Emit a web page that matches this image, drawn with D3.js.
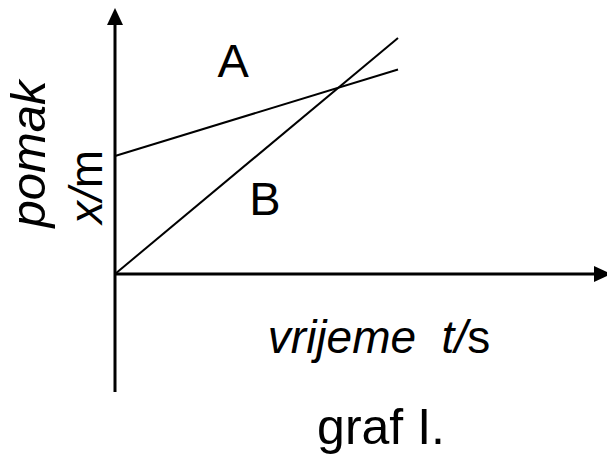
<!DOCTYPE html>
<html>
<head>
<meta charset="utf-8">
<script src="https://cdn.jsdelivr.net/npm/d3@7"></script>
<style>
  html, body { margin: 0; padding: 0; background: #fff; }
  text { font-family: "Liberation Sans", Arial, sans-serif; fill: #000; }
</style>
</head>
<body>
<svg width="607" height="456"></svg>
<script>
// Data: two straight lines (time in s, displacement in m, no units shown)
var times = [0, 4];
var seriesA = [3, 5.2];
var seriesB = [0, 6];
var lineNames = ['A', 'B'];
// label anchor points in data units
var labelT = [1.67, 2.12];
var labelX = [5.0, 1.5];

var svg = d3.select('svg');

// Origin of the plot in pixels
var origin = {x: 115, y: 274};

var xScale = d3.scaleLinear()
    .domain([0, 4])
    .range([origin.x, 398]);

var yScale = d3.scaleLinear()
    .domain([0, 6])
    .range([origin.y, 38]);

// Axes with arrow heads
var axisG = svg.append('g').attr('class', 'axes');

// vertical axis
axisG.append('line')
    .attr('x1', origin.x).attr('y1', 392)
    .attr('x2', origin.x).attr('y2', 22)
    .attr('stroke', '#000')
    .attr('stroke-width', 3);
axisG.append('path')
    .attr('d', d3.line()([[origin.x, 8], [origin.x - 8, 25], [origin.x + 8, 25]]) + 'Z')
    .attr('fill', '#000');

// horizontal axis
axisG.append('line')
    .attr('x1', origin.x).attr('y1', origin.y)
    .attr('x2', 596).attr('y2', origin.y)
    .attr('stroke', '#000')
    .attr('stroke-width', 3);
axisG.append('path')
    .attr('d', d3.line()([[611, origin.y], [594, origin.y - 8], [594, origin.y + 8]]) + 'Z')
    .attr('fill', '#000');

// Lines A and B
var lines = [seriesA, seriesB];
var lineGen = d3.line()
    .x(function(d, i) { return xScale(times[i]); })
    .y(function(d) { return yScale(d); });

svg.selectAll('.series')
    .data(lines)
    .enter()
    .append('path')
    .attr('class', 'series')
    .attr('d', lineGen)
    .attr('fill', 'none')
    .attr('stroke', '#000')
    .attr('stroke-width', 2);

// Line names
svg.selectAll('.name')
    .data(lineNames)
    .enter()
    .append('text')
    .attr('class', 'name')
    .attr('x', function(d, i) { return xScale(labelT[i]); })
    .attr('y', function(d, i) { return yScale(labelX[i]); })
    .attr('text-anchor', 'middle')
    .style('font-size', '47px')
    .text(function(d) { return d; });

// x axis title
var xTitle = svg.append('text')
    .attr('x', 379)
    .attr('y', 353)
    .attr('text-anchor', 'middle')
    .style('font-size', '46px')
    .style('white-space', 'pre');
xTitle.append('tspan').style('font-style', 'italic').text('vrijeme  t/');
xTitle.append('tspan').text('s');

// y axis titles (rotated)
svg.append('text')
    .attr('transform', 'translate(45,154) rotate(-90)')
    .attr('text-anchor', 'middle')
    .style('font-size', '49px')
    .style('font-style', 'italic')
    .text('pomak');

var yUnit = svg.append('text')
    .attr('transform', 'translate(102,187) rotate(-90)')
    .attr('text-anchor', 'middle')
    .style('font-size', '46px');
yUnit.append('tspan').style('font-style', 'italic').text('x/');
yUnit.append('tspan').text('m');

// caption
svg.append('text')
    .attr('x', 381)
    .attr('y', 444)
    .attr('text-anchor', 'middle')
    .style('font-size', '50px')
    .text('graf I.');
</script>
</body>
</html>
